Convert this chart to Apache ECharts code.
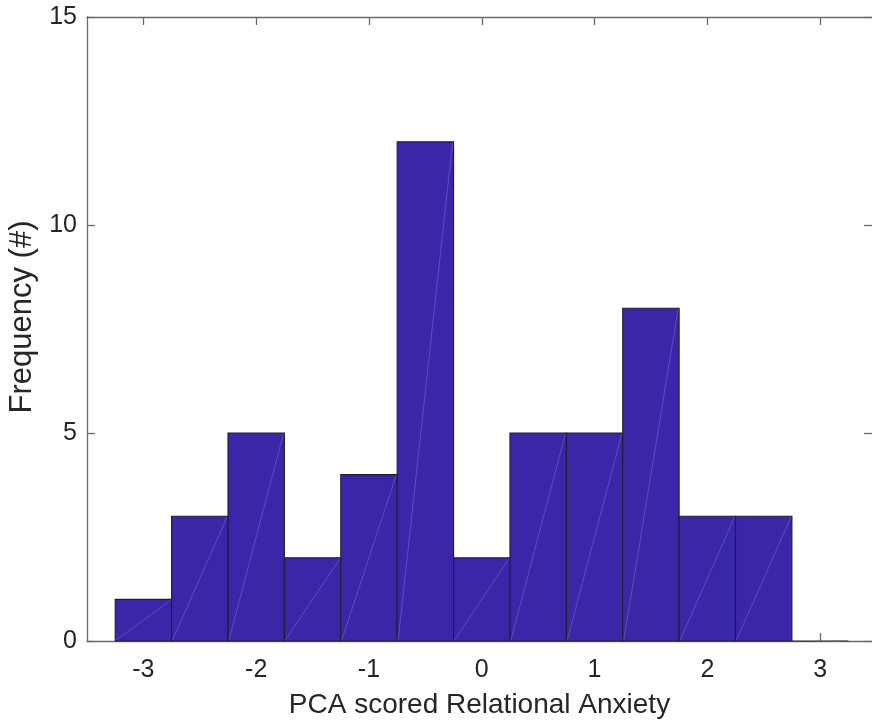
<!DOCTYPE html>
<html>
<head>
<meta charset="utf-8">
<script src="https://cdn.jsdelivr.net/npm/echarts@6/dist/echarts.min.js"></script>
<style>
html,body{margin:0;padding:0;background:#fff;}
#chart{width:872px;height:722px;}
</style>
</head>
<body>
<div id="chart"></div>
<script>
// Histogram bin edges and counts
var binEdges = [-3.25, -2.75, -2.25, -1.75, -1.25, -0.75, -0.25, 0.25, 0.75, 1.25, 1.75, 2.25, 2.75, 3.25];
var counts = [1, 3, 5, 2, 4, 12, 2, 5, 5, 8, 3, 3, 0];
var xTickValues = [-3, -2, -1, 0, 1, 2, 3];
var yTickValues = [0, 5, 10, 15];
var xLabel = 'PCA scored Relational Anxiety';
var yLabel = 'Frequency (#)';
// visible x-range (the plot box is cropped on the right, axis runs to 3.5)
var xMin = -3.5, xMaxVisible = 3.46;

var data = counts.map(function (c, i) { return [binEdges[i], binEdges[i + 1], c]; });

var axisColor = '#6b6b6b';
var textColor = '#262626';
var font = 'Liberation Sans, Arial, Helvetica, sans-serif';

var chart = echarts.init(document.getElementById('chart'));
chart.setOption({
  animation: false,
  backgroundColor: '#fff',
  grid: { left: 87, top: 17, right: 0, height: 624, containLabel: false, outerBoundsMode: 'none' },
  xAxis: [
    {
      type: 'value', min: xMin, max: xMaxVisible, position: 'bottom',
      name: xLabel, nameLocation: 'middle', nameGap: 50,
      nameTextStyle: { fontSize: 28, color: textColor, fontFamily: font },
      axisLine: { show: true, onZero: false, lineStyle: { color: axisColor, width: 1.3 } },
      axisTick: { show: true, inside: true, length: 8, customValues: xTickValues, lineStyle: { color: axisColor, width: 1.3 } },
      axisLabel: { show: true, customValues: xTickValues, margin: 17, fontSize: 25, color: textColor, fontFamily: font },
      splitLine: { show: false }
    },
    {
      type: 'value', min: xMin, max: xMaxVisible, position: 'top',
      axisLine: { show: true, onZero: false, lineStyle: { color: axisColor, width: 1.3 } },
      axisTick: { show: true, inside: true, length: 8, customValues: xTickValues, lineStyle: { color: axisColor, width: 1.3 } },
      axisLabel: { show: false },
      splitLine: { show: false }
    }
  ],
  yAxis: [
    {
      type: 'value', min: 0, max: 15, interval: 5, position: 'left',
      name: yLabel, nameLocation: 'middle', nameGap: 42, nameRotate: 90,
      nameTextStyle: { fontSize: 31, color: textColor, fontFamily: font, padding: [0, 0, 0, 24] },
      axisLine: { show: true, onZero: false, lineStyle: { color: axisColor, width: 1.3 } },
      axisTick: { show: true, inside: true, length: 8, lineStyle: { color: axisColor, width: 1.3 } },
      axisLabel: { show: true, margin: 10, fontSize: 25, color: textColor, fontFamily: font },
      splitLine: { show: false }
    },
    {
      type: 'value', min: 0, max: 15, interval: 5, position: 'right',
      axisLine: { show: false, onZero: false },
      axisTick: { show: true, inside: true, length: 8, lineStyle: { color: axisColor, width: 1.3 } },
      axisLabel: { show: false },
      splitLine: { show: false }
    }
  ],
  series: [{
    type: 'custom',
    xAxisIndex: 0,
    yAxisIndex: 0,
    data: data,
    renderItem: function (params, api) {
      var p0 = api.coord([api.value(0), api.value(2)]);
      var p1 = api.coord([api.value(1), 0]);
      return {
        type: 'group',
        children: [
          {
            type: 'rect',
            shape: { x: p0[0], y: p0[1], width: p1[0] - p0[0], height: p1[1] - p0[1] },
            style: { fill: '#3a27a8', stroke: '#1f1f2a', lineWidth: 1.1 }
          },
          {
            type: 'line',
            shape: { x1: p0[0] + 1, y1: p1[1] - 1, x2: p1[0] - 1, y2: p0[1] + 1 },
            style: { stroke: 'rgba(255,255,255,0.18)', lineWidth: 1 }
          }
        ]
      };
    }
  }]
});
</script>
</body>
</html>
